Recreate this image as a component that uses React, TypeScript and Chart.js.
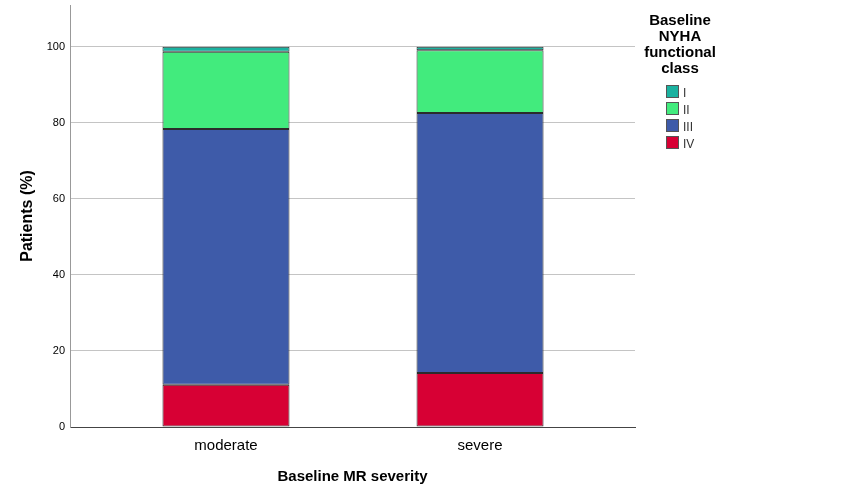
import { useEffect, useRef } from "react";
import { Chart, registerables } from "chart.js";

Chart.register(...registerables);

const categories = ["moderate", "severe"];
const classNames = ["IV", "III", "II", "I"];
const classIV = [11.1, 14.2];
const classIII = [67.3, 68.4];
const classII = [20.3, 16.5];
const classI = [1.3, 0.9];
const yTicks = [0, 20, 40, 60, 80, 100];
const legendTitle = ["Baseline", "NYHA", "functional", "class"];

const colors = ["#d70034", "#3e5ba9", "#42eb7d", "#1bb2a0"];
const FONT = "'Liberation Sans', Arial, sans-serif";

// legend drawn by hand so it sits exactly where SPSS puts it
const legendPlugin = {
  id: "nyhaLegend",
  afterDraw(chart: Chart) {
    const ctx = chart.ctx;
    ctx.save();
    ctx.fillStyle = "#000";
    ctx.font = `bold 15px ${FONT}`;
    ctx.textAlign = "center";
    ctx.textBaseline = "alphabetic";
    legendTitle.forEach((line, i) => ctx.fillText(line, 680, 25 + i * 16));

    const items = chart.data.datasets
      .map((ds) => ({ label: String(ds.label), color: String(ds.backgroundColor) }))
      .reverse();
    ctx.font = `12px ${FONT}`;
    ctx.textAlign = "left";
    items.forEach((item, i) => {
      const top = 85 + i * 17;
      ctx.fillStyle = item.color;
      ctx.fillRect(666, top, 13, 13);
      ctx.strokeStyle = "#555";
      ctx.lineWidth = 1;
      ctx.strokeRect(666.5, top + 0.5, 12, 12);
      ctx.fillStyle = "#333";
      ctx.fillText(item.label, 683, top + 12);
    });
    ctx.restore();
  }
};

export default function App() {
  const canvasRef = useRef<HTMLCanvasElement | null>(null);

  useEffect(() => {
    if (!canvasRef.current) return;
    const series = [classIV, classIII, classII, classI];

    const chart = new Chart(canvasRef.current, {
      type: "bar",
      data: {
        datasets: series.map((values, s) => ({
          label: classNames[s],
          data: values.map((v, i) => ({ x: i, y: v })),
          backgroundColor: colors[s],
          borderColor: "#2b2b2b",
          borderWidth: 1,
          borderSkipped: false,
          categoryPercentage: 1,
          barPercentage: 0.5
        }))
      },
      options: {
        responsive: false,
        animation: false,
        layout: { padding: { left: 0, right: 212, top: 5, bottom: 0 } },
        plugins: {
          legend: { display: false },
          tooltip: { enabled: false }
        },
        scales: {
          x: {
            type: "linear",
            stacked: true,
            offset: false,
            min: -0.614,
            max: 1.61,
            afterFit: (scale) => {
              scale.height = 70;
              scale.paddingLeft = 0;
              scale.paddingRight = 0;
            },
            afterBuildTicks: (scale) => {
              scale.ticks = categories.map((_, i) => ({ value: i }));
            },
            grid: { display: false, drawTicks: false },
            border: { display: true, color: "#444", width: 1 },
            ticks: {
              padding: 10,
              color: "#000",
              font: { family: FONT, size: 15 },
              callback: (v) => categories[Number(v)] ?? ""
            },
            title: {
              display: true,
              text: "Baseline MR severity",
              color: "#000",
              font: { family: FONT, size: 15, weight: "bold" },
              padding: { top: 0, bottom: 11 }
            }
          },
          y: {
            stacked: true,
            min: 0,
            max: 111,
            afterFit: (scale) => {
              scale.width = 70;
              scale.paddingTop = 0;
              scale.paddingBottom = 0;
            },
            afterBuildTicks: (scale) => {
              scale.ticks = yTicks.map((v) => ({ value: v }));
            },
            grid: {
              drawTicks: false,
              color: (c) => (c.tick && c.tick.value === 0 ? "rgba(0,0,0,0)" : "#c4c4c4")
            },
            border: { display: true, color: "#999", width: 1 },
            ticks: {
              padding: 5,
              color: "#000",
              font: { family: FONT, size: 11 }
            },
            title: {
              display: true,
              text: "Patients (%)",
              color: "#000",
              font: { family: FONT, size: 16, weight: "bold" },
              padding: { top: 18, bottom: 0 }
            }
          }
        }
      },
      plugins: [legendPlugin]
    });

    return () => chart.destroy();
  }, []);

  return (
    <div style={{ position: "absolute", left: 0, top: 0, width: 847, height: 497, background: "#fff" }}>
      <canvas ref={canvasRef} width={847} height={497} />
    </div>
  );
}
